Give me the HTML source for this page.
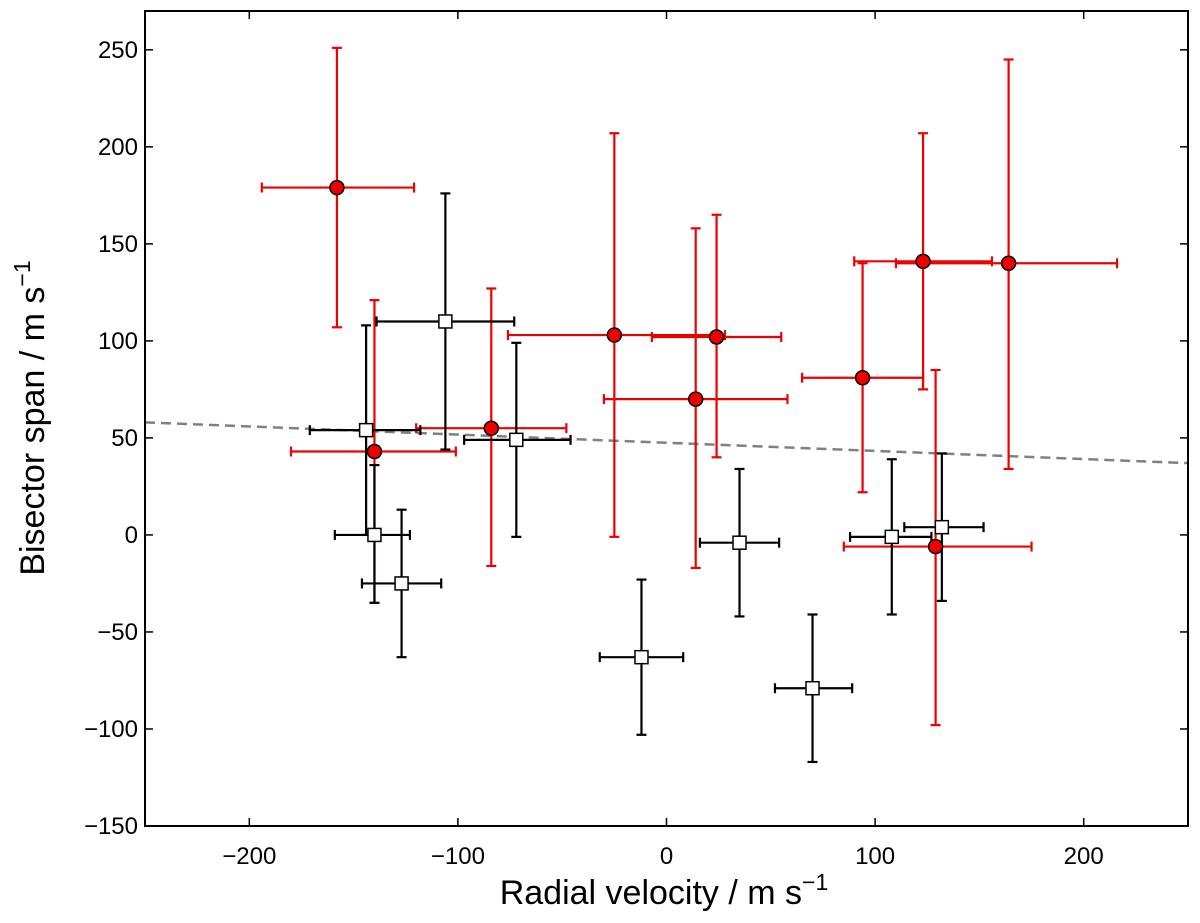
<!DOCTYPE html>
<html><head><meta charset="utf-8"><style>
body{margin:0;background:#fff}
svg text{font-family:"Liberation Sans","DejaVu Sans",sans-serif}
</style></head><body>
<svg id="chart" width="1200" height="918" viewBox="0 0 1200 918" xmlns="http://www.w3.org/2000/svg">
<g id="trend"></g>
<g id="marks"></g>
<rect x="145" y="11" width="1043" height="815" fill="none" stroke="#000" stroke-width="2"/>
<g id="axes"></g>
<text x="664" y="904" font-size="34" text-anchor="middle">Radial velocity / m s<tspan dy="-14" font-size="23">−1</tspan></text>
<text transform="translate(44,418) rotate(-90)" font-size="34" text-anchor="middle">Bisector span / m s<tspan dy="-14" font-size="23">−1</tspan></text>
</svg>
<script>
const xTicks=[-200,-100,0,100,200];
const yTicks=[-150,-100,-50,0,50,100,150,200,250];
const redX=[-158,-140,-84,-25,14,24,94,123,164,129];
const redY=[179,43,55,103,70,102,81,141,140,-6];
const redXLo=[-194,-180,-120,-76,-30,-7,65,90,110,85];
const redXHi=[-121,-101,-48,28,58,55,123,156,216,175];
const redYLo=[107,-35,-16,-1,-17,40,22,75,34,-98];
const redYHi=[251,121,127,207,158,165,140,207,245,85];
const blkX=[-106,-144,-72,-140,-127,-12,35,70,108,132];
const blkY=[110,54,49,0,-25,-63,-4,-79,-1,4];
const blkXLo=[-139,-171,-97,-159,-146,-32,16,52,88,114];
const blkXHi=[-73,-118,-46,-123,-108,8,54,89,127,152];
const blkYLo=[44,0,-1,-35,-63,-103,-42,-117,-41,-34];
const blkYHi=[176,108,99,36,13,-23,34,-41,39,42];
const trendX=[-250,250];
const trendY=[58,37];
const L=145,R=1188,T=11,B=826,xmin=-250,xmax=250,ymin=-150,ymax=270;
const sx=v=>L+(v-xmin)/(xmax-xmin)*(R-L);
const sy=v=>B-(v-ymin)/(ymax-ymin)*(B-T);
const NS="http://www.w3.org/2000/svg";
function mk(tag,attrs,parent){const e=document.createElementNS(NS,tag);for(const k in attrs)e.setAttribute(k,attrs[k]);parent.appendChild(e);return e;}
const axes=document.getElementById('axes');
xTicks.forEach(v=>{
  mk('line',{x1:sx(v),x2:sx(v),y1:B,y2:B-8,stroke:'#000','stroke-width':1.5},axes);
  mk('line',{x1:sx(v),x2:sx(v),y1:T,y2:T+8,stroke:'#000','stroke-width':1.5},axes);
  const t=mk('text',{x:sx(v),y:B+38,'font-size':24,'text-anchor':'middle'},axes);
  
  
  t.textContent=v<0?'−'+(-v):String(v);
});
yTicks.forEach(v=>{
  mk('line',{x1:L,x2:L+8,y1:sy(v),y2:sy(v),stroke:'#000','stroke-width':1.5},axes);
  mk('line',{x1:R,x2:R-8,y1:sy(v),y2:sy(v),stroke:'#000','stroke-width':1.5},axes);
  const t=mk('text',{x:L-7,y:sy(v)+8,'font-size':24,'text-anchor':'end'},axes);
  
  
  t.textContent=v<0?'−'+(-v):String(v);
});
const tr=document.getElementById('trend');
const tl=mk('line',{x1:sx(trendX[0]),y1:sy(trendY[0]),x2:sx(trendX[1]),y2:sy(trendY[1]),stroke:'#808080','stroke-width':2.5,'stroke-dasharray':'10,6'},tr);


const marks=document.getElementById('marks');
function errs(X,Y,XL,XH,YL,YH,col,w){
  for(let i=0;i<X.length;i++){
    const g=mk('g',{stroke:col,'stroke-width':w,fill:'none'},marks);
    
    
    mk('line',{x1:sx(XL[i]),x2:sx(XH[i]),y1:sy(Y[i]),y2:sy(Y[i])},g);
    mk('line',{x1:sx(X[i]),x2:sx(X[i]),y1:sy(YL[i]),y2:sy(YH[i])},g);
    [XL[i],XH[i]].forEach(v=>mk('line',{x1:sx(v),x2:sx(v),y1:sy(Y[i])-5,y2:sy(Y[i])+5},g));
    [YL[i],YH[i]].forEach(v=>mk('line',{x1:sx(X[i])-5,x2:sx(X[i])+5,y1:sy(v),y2:sy(v)},g));
  }
}
errs(redX,redY,redXLo,redXHi,redYLo,redYHi,'#e00',2.2);
errs(blkX,blkY,blkXLo,blkXHi,blkYLo,blkYHi,'#000',2.2);
for(let i=0;i<blkX.length;i++){
  const r=mk('rect',{x:sx(blkX[i])-6.5,y:sy(blkY[i])-6.5,width:13,height:13,fill:'#fff',stroke:'#000','stroke-width':1.5},marks);
  
  
}
for(let i=0;i<redX.length;i++){
  const c=mk('circle',{cx:sx(redX[i]),cy:sy(redY[i]),r:7,fill:'#e00',stroke:'#000','stroke-width':1.5},marks);
  
  
}
</script>
</body></html>
